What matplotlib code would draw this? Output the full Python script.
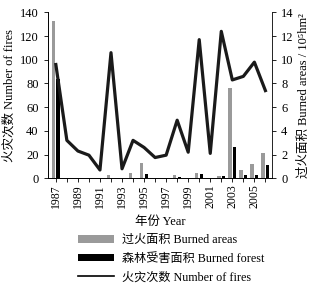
import numpy as np
import matplotlib
matplotlib.use("Agg")
import matplotlib.pyplot as plt
from matplotlib.patches import Patch
from matplotlib.lines import Line2D

plt.rcParams['font.family'] = ['Liberation Serif', 'Noto Sans CJK SC', 'DejaVu Serif']

years = np.arange(1987, 2007)
fires = [96, 32, 23, 19.5, 7, 106, 8, 32, 26, 17.5, 19.5, 49, 22, 117, 21, 124, 83, 86, 98, 74]
burned_area = [13.3, 0, 0, 0, 0.05, 0.25, 0.05, 0.48, 1.3, 0, 0.05, 0.25, 0.03, 0.48, 0, 0.17, 7.65, 0.7, 1.18, 2.15]
burned_forest = [8.4, 0, 0, 0, 0, 0, 0, 0, 0.33, 0, 0, 0.08, 0.02, 0.34, 0, 0.17, 2.65, 0.25, 0.25, 1.12]
year_labels = [str(y) if y % 2 == 1 else "" for y in years]

fig = plt.figure(figsize=(3.35, 2.88), dpi=100)
ax = fig.add_axes([0.142, 0.381, 0.670, 0.576])
ax2 = ax.twinx()

ax2.bar(years - 0.22, burned_area, width=0.3, color="#9a9a9a", zorder=1)
ax2.bar(years + 0.2, burned_forest, width=0.3, color="black", zorder=1)
ax.plot(years, fires, color="#1a1a1a", lw=2.3, zorder=3)
ax.set_zorder(ax2.get_zorder() + 1)
ax.patch.set_visible(False)

ax.set_xlim(1986.25, 2006.6)
ax.set_ylim(0, 140)
ax2.set_ylim(0, 14)
ax.set_yticks(range(0, 141, 20))
ax2.set_yticks(range(0, 15, 2))
ax.set_xticks(years)
ax.set_xticklabels(year_labels, rotation=90, fontsize=8.5)
ax.tick_params(axis="y", labelsize=9, length=3, width=0.6)
ax.tick_params(axis="x", length=3, width=0.6, pad=1.5)
ax2.tick_params(axis="y", labelsize=9, length=3, width=0.6)

for a in (ax, ax2):
    a.spines["top"].set_visible(False)
    for s in ("left", "right", "bottom"):
        a.spines[s].set_linewidth(0.6)
ax.spines["right"].set_visible(False)

ax.set_ylabel("火灾次数 Number of fires", fontsize=9, labelpad=3)
ax2.set_ylabel("过火面积 Burned areas / 10\u2075hm\u00b2", fontsize=9, labelpad=3)
fig.text(0.478, 0.229, "年份 Year", ha="center", va="center", fontsize=9)

handles = [Patch(facecolor="#9a9a9a", edgecolor="none"),
           Patch(facecolor="black", edgecolor="none"),
           Line2D([0], [0], color="black", lw=1.2)]
labels = ["过火面积 Burned areas", "森林受害面积 Burned forest", "火灾次数 Number of fires"]
fig.legend(handles, labels, loc="center left", bbox_to_anchor=(0.215, 0.102),
           frameon=False, fontsize=8.7, handlelength=3.0, handleheight=0.6,
           labelspacing=0.55, handletextpad=0.6, borderpad=0)

fig.savefig("out.png", dpi=100)
